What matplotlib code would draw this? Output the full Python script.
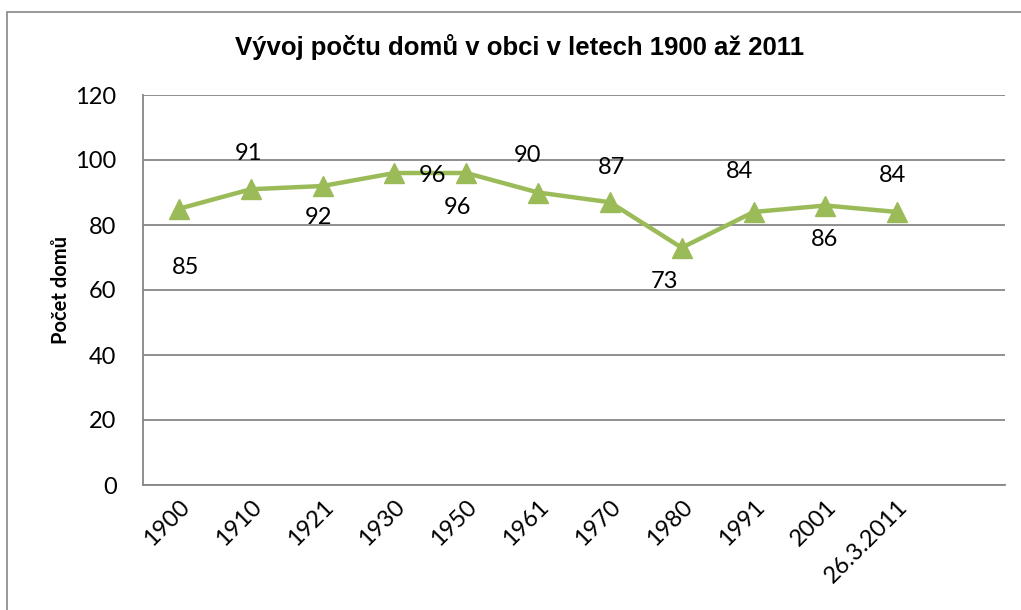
import numpy as np
import matplotlib.pyplot as plt
from matplotlib.patches import Rectangle

plt.rcParams['font.family'] = ['Lato', 'DejaVu Sans']

years = ['1900', '1910', '1921', '1930', '1950', '1961', '1970', '1980',
         '1991', '2001', '26.3.2011']
houses = [85, 91, 92, 96, 96, 90, 87, 73, 84, 86, 84]

# label offsets in pixels (dx, dy)
offs = [(7, -59), (-2, 36), (-4, -32), (38, -2), (-9, -35), (-11, 37),
        (2, 35), (-17, -34), (-14, 40), (-1, -34), (-5, 37)]

green = '#9BBB59'
grid = '#868686'

fig = plt.figure(figsize=(10.21, 6.10), dpi=100)
# chart frame, clipped by the image on the right and bottom
fig.patches.append(Rectangle((7/1021, -10/610), 1030/1021, 608/610,
                             transform=fig.transFigure, fill=False,
                             edgecolor='#868686', lw=1.2))

ax = fig.add_axes([143/1021, 125/610, 862/1021, 390/610])
x = np.arange(len(years))
ax.plot(x, houses, color=green, lw=3.2, marker='^', ms=15, zorder=3)

for xi, v, (dx, dy) in zip(x, houses, offs):
    ax.annotate(str(v), (xi, v), xytext=(dx, dy), textcoords='offset pixels',
                ha='center', va='center', fontsize=17)

ax.set_xlim(-0.5, 11.5)
ax.set_ylim(0, 120)
ax.set_yticks(np.arange(0, 121, 20))
ax.set_xticks(x)
ax.set_xticklabels(years, rotation=45, ha='right', rotation_mode='anchor',
                   fontsize=17)
ax.tick_params(axis='y', labelsize=17, length=0, pad=19)
ax.tick_params(axis='x', length=0, pad=8)
ax.yaxis.grid(True, color=grid, lw=1.3)
ax.set_axisbelow(True)
for s in ['top', 'right']:
    ax.spines[s].set_visible(False)
for s in ['left', 'bottom']:
    ax.spines[s].set_color(grid)
    ax.spines[s].set_linewidth(1.3)

ax.set_ylabel('Počet domů', fontsize=14.5, fontweight='bold', labelpad=3)
fig.text(520/1021, 1 - 47/610, 'Vývoj počtu domů v obci v letech 1900 až 2011',
         ha='center', va='center', fontsize=18.5, fontweight='bold',
         family='Liberation Sans')

fig.savefig('out.png')
